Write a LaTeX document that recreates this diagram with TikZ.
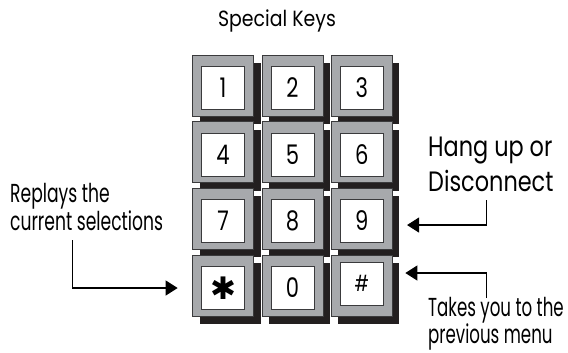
\documentclass[tikz,border=0pt]{standalone}
\usepackage{fontspec}
\usepackage{tikz}
\usetikzlibrary{arrows.meta,shadows}

\newfontfamily\titlefont[FakeStretch=0.86]{Poppins}
\newfontfamily\digitfont[FakeStretch=0.78]{Poppins}
\newfontfamily\leftfont[FakeStretch=0.66]{Poppins}
\newfontfamily\rightfont[FakeStretch=0.80]{Poppins}
\newfontfamily\lowfont[FakeStretch=0.64]{Poppins}
\newfontfamily\starfont{DejaVu Sans}

\definecolor{keygray}{HTML}{A7A9AC}
\definecolor{keyedge}{HTML}{3A3A3C}
\definecolor{keyshadow}{HTML}{231F20}

\newcommand{\keystar}{{\starfont\fontsize{31}{31}\selectfont ✱}}
\newcommand{\keyhash}{{\fontsize{22}{22}\selectfont\#}}

\begin{document}
\begin{tikzpicture}[x=1pt, y=-1pt, >=Stealth,
  keycap/.style={draw=keyedge, line width=0.7pt, fill=keygray,
    minimum width=61pt, minimum height=61pt, inner sep=0pt,
    drop shadow={shadow xshift=7pt, shadow yshift=-8pt, fill=keyshadow, opacity=1}},
  keyface/.style={draw=keyedge, line width=0.7pt, fill=white,
    minimum width=43pt, minimum height=43pt, inner sep=0pt,
    font=\digitfont\fontsize{27}{27}\selectfont},
  callout/.style={draw=black, line width=1.1pt, -{Triangle[length=12pt, width=15pt]}},
  note/.style={align=left, inner sep=0pt}]
\useasboundingbox (0,0) rectangle (568,353);

% Title
\node[font=\titlefont\fontsize{22}{22}\selectfont, anchor=base, inner sep=0pt] (title) at (277,26.7) {Special Keys};

% Keypad, row by row so later keys hide the shadows above them
\foreach \name/\col/\row/\face/\lift in {
    key1/0/0/1/-2.2, key2/1/0/2/-2.2, key3/2/0/3/-2.2,
    key4/0/1/4/-2.2, key5/1/1/5/-2.2, key6/2/1/6/-2.2,
    key7/0/2/7/-2.2, key8/1/2/8/-2.2, key9/2/2/9/-2.2,
    keystar/0/3/\keystar/-2.2, key0/1/3/0/-2.2, keyhash/2/3/\keyhash/2} {
  \node[keycap] (\name) at ({223+69.4*\col},{85.5+66.67*\row}) {};
  \node[keyface, yshift=\lift pt] (\name-face) at (\name) {\face};
}

% Notes (anchored on the baseline of their last line)
\node[note, anchor=base west, font=\leftfont\fontsize{26}{21.7}\selectfont] (replay) at (10,230) {Replays the\\current selections};
\node[note, anchor=base west, font=\rightfont\fontsize{28}{35}\selectfont] (hangup) at (428,191.7) {Hang up or\\Disconnect};
\node[note, anchor=base west, font=\lowfont\fontsize{26}{22}\selectfont] (previous) at (428,343.5) {Takes you to the\\previous menu};

% Callouts
\coordinate (replay-end) at (72.7,240);
\coordinate (hangup-end) at (486.7,200);
\coordinate (previous-end) at (486.7,298);
\draw[callout] (replay-end) |- ([xshift=-14.5pt, yshift=-2.5pt]keystar.west);
\draw[callout] (hangup-end) |- ([xshift=14.4pt, yshift=-6.2pt]key9.east);
\draw[callout] (previous-end) |- ([xshift=12.7pt, yshift=12.5pt]keyhash.east);
\end{tikzpicture}
\end{document}
